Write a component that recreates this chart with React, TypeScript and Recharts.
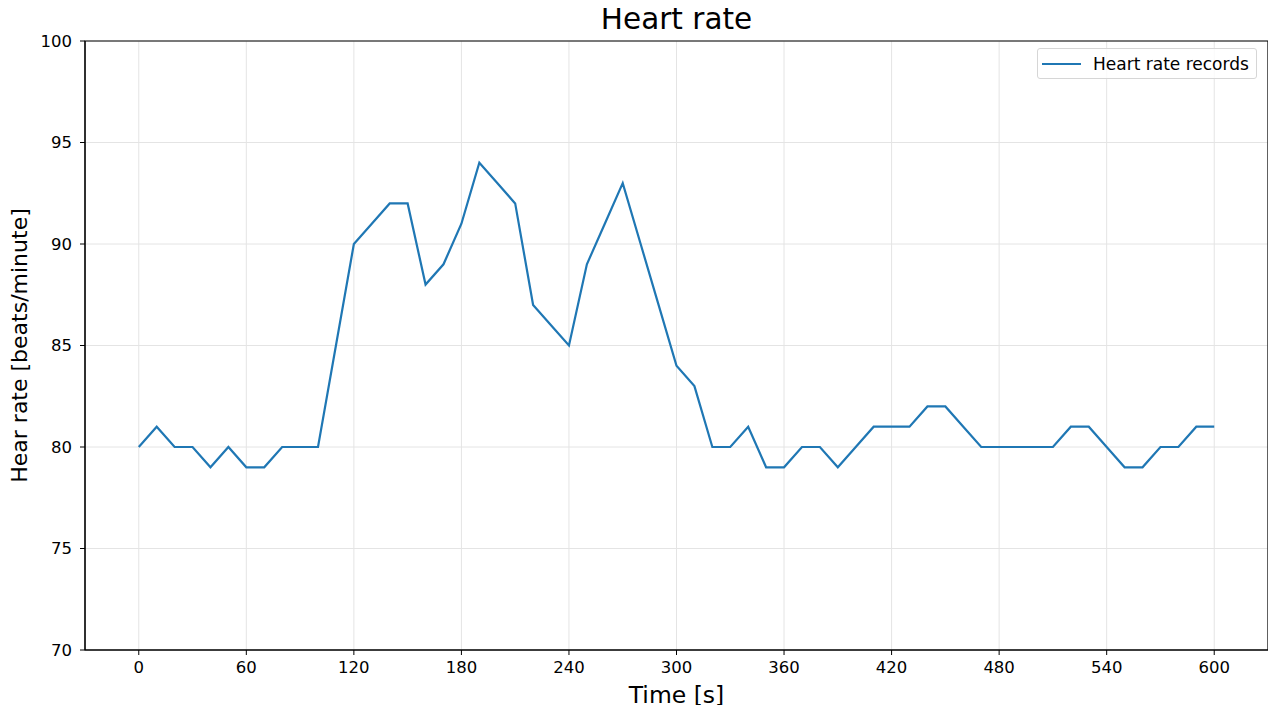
import {
  CartesianGrid,
  Label,
  Legend,
  Line,
  LineChart,
  ReferenceArea,
  XAxis,
  YAxis,
} from 'recharts';

const times = [
  0, 10, 20, 30, 40, 50, 60, 70, 80, 90, 100, 110, 120, 130, 140, 150, 160, 170, 180, 190, 200,
  210, 220, 230, 240, 250, 260, 270, 280, 290, 300, 310, 320, 330, 340, 350, 360, 370, 380, 390,
  400, 410, 420, 430, 440, 450, 460, 470, 480, 490, 500, 510, 520, 530, 540, 550, 560, 570, 580,
  590, 600,
];

const heartRate = [
  80, 81, 80, 80, 79, 80, 79, 79, 80, 80, 80, 85, 90, 91, 92, 92, 88, 89, 91, 94, 93,
  92, 87, 86, 85, 89, 91, 93, 90, 87, 84, 83, 80, 80, 81, 79, 79, 80, 80, 79,
  80, 81, 81, 81, 82, 82, 81, 80, 80, 80, 80, 80, 81, 81, 80, 79, 79, 80, 80,
  81, 81,
];

const xTicks = [0, 60, 120, 180, 240, 300, 360, 420, 480, 540, 600];
const yTicks = [70, 75, 80, 85, 90, 95, 100];

const seriesName = 'Heart rate records';

const data = times.map((t, i) => ({ t, hr: heartRate[i] }));

const FONT = '"DejaVu Sans", sans-serif';
const LINE_COLOR = '#1f77b4';

const LegendBox = () => (
  <div
    style={{
      display: 'flex',
      alignItems: 'center',
      height: 31,
      boxSizing: 'border-box',
      border: '1px solid #d6d6d6',
      borderRadius: 3,
      background: 'rgba(255,255,255,0.8)',
      padding: '0 7px 0 2px',
      fontFamily: FONT,
      fontSize: 17,
      color: '#000',
      whiteSpace: 'nowrap',
    }}
  >
    <svg width={45} height={10} style={{ marginRight: 8, flex: 'none' }}>
      <line x1={2} y1={5} x2={41} y2={5} stroke={LINE_COLOR} strokeWidth={2.2} />
    </svg>
    <span>{seriesName}</span>
  </div>
);

export default function App() {
  // pull the figure over the body's 8px margin so chart coords equal page coords
  return (
    <div style={{ position: 'relative', width: 1276, height: 713, margin: -8, fontFamily: FONT }}>
      <div
        style={{
          position: 'absolute',
          left: 85,
          width: 1183,
          top: 2,
          textAlign: 'center',
          fontSize: 29.5,
          color: '#000',
          zIndex: 1,
        }}
      >
        Heart rate
      </div>
      <LineChart
        width={1276}
        height={713}
        data={data}
        margin={{ top: 41, right: 8, bottom: 0, left: 0 }}
      >
        <CartesianGrid stroke="#e4e4e4" strokeWidth={1} />
        <XAxis
          dataKey="t"
          type="number"
          domain={[-30, 630]}
          ticks={xTicks}
          height={63}
          allowDataOverflow
          tickSize={5}
          tickMargin={6}
          stroke="#000"
          tick={{ fontSize: 16.5, fill: '#000', fontFamily: FONT }}
        >
          <Label
            value="Time [s]"
            position="insideBottom"
            offset={10}
            style={{ fontSize: 23.5, fill: '#000', fontFamily: FONT }}
          />
        </XAxis>
        <YAxis
          type="number"
          domain={[70, 100]}
          ticks={yTicks}
          width={85}
          allowDataOverflow
          tickSize={5}
          tickMargin={8}
          stroke="#000"
          tick={{ fontSize: 16.5, fill: '#000', fontFamily: FONT }}
        >
          <Label
            value="Hear rate [beats/minute]"
            angle={-90}
            position="insideLeft"
            offset={19}
            style={{ fontSize: 22, fill: '#000', fontFamily: FONT, textAnchor: 'middle' }}
          />
        </YAxis>
        <ReferenceArea
          x1={-30}
          x2={630}
          y1={70}
          y2={100}
          fill="none"
          stroke="#000"
          strokeWidth={1.2}
        />
        <Line
          type="linear"
          dataKey="hr"
          name={seriesName}
          stroke={LINE_COLOR}
          strokeWidth={2.2}
          dot={false}
          activeDot={false}
          isAnimationActive={false}
        />
        <Legend
          layout="horizontal"
          verticalAlign="middle"
          align="center"
          content={<LegendBox />}
          wrapperStyle={{ top: 48, left: 1037, right: 'auto', bottom: 'auto', width: 'auto' }}
        />
      </LineChart>
    </div>
  );
}
